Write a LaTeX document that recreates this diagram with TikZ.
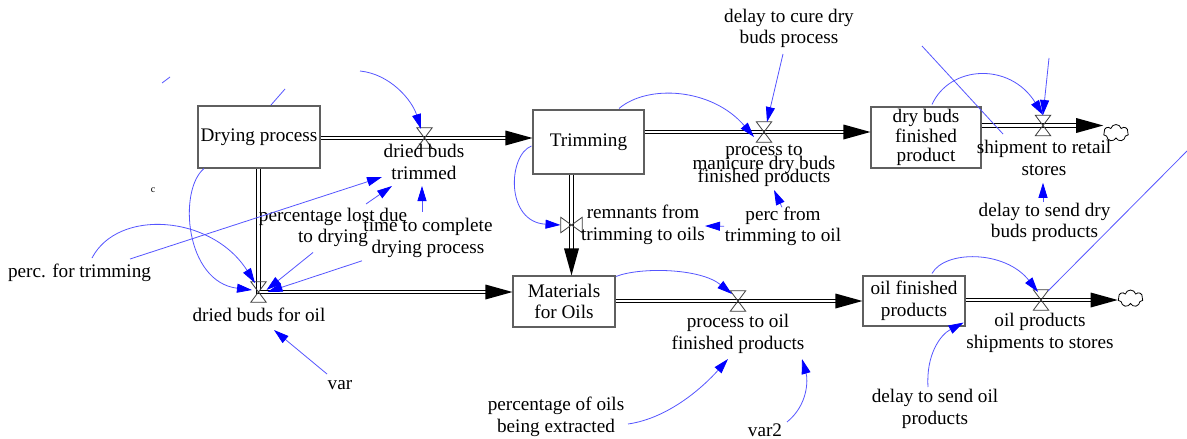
\documentclass[tikz,border=0pt]{standalone}
\usepackage{fontspec}
\setmainfont{Liberation Serif}
\usetikzlibrary{arrows.meta,calc,shapes.symbols}
\definecolor{linkblue}{RGB}{85,85,255}
\definecolor{tipblue}{RGB}{0,0,255}
\definecolor{boxgray}{RGB}{95,95,95}
\definecolor{valvegray}{RGB}{60,60,60}
\newcommand{\lblfont}{\fontsize{19.2}{21.7}\selectfont}
\tikzset{
  stock/.style={draw=boxgray, line width=1.1pt, inner sep=0pt, align=center, font=\lblfont},
  lbl/.style={font=\lblfont, align=center, inner sep=0pt},
  valve/.style={minimum width=15pt, minimum height=20pt, inner sep=0pt},
  valvebt/.style={minimum width=21pt, minimum height=15pt, inner sep=0pt},
  valveline/.style={draw=valvegray, line width=0.8pt, line join=miter},
  pipe/.style={draw=black, line width=1pt, double=white, double distance=2.8pt},
  flowhead/.style={fill=black},
  link/.style={draw=linkblue, line width=0.8pt, -{Triangle[length=15pt,width=9pt,color=tipblue]}},
  plainlink/.style={draw=linkblue, line width=0.8pt},
  sink/.style={cloud, cloud puffs=7, aspect=1.5, draw=black, line width=0.8pt, fill=white,
               minimum width=25pt, minimum height=17pt, inner sep=0pt},
}
\begin{document}
\begin{tikzpicture}[x=1pt,y=-1pt]
\useasboundingbox[fill=white] (0,0) rectangle (1187,439);

% ---- stocks
\node[stock, minimum width=122pt, minimum height=62pt] (dry)  at (259,137)   {Drying process};
\node[stock, minimum width=111pt, minimum height=64pt] (trim) at (588.5,142) {Trimming};
\node[stock, minimum width=110pt, minimum height=61pt, font=\fontsize{19.2}{19.5}\selectfont]
     (dbfp) at (926,137.5) {dry buds\\finished\\product};
\node[stock, minimum width=102pt, minimum height=51pt] (mat)  at (564,301.5) {Materials\\for Oils};
\node[stock, minimum width=102pt, minimum height=50pt] (ofp)  at (914,301)   {oil finished\\products};

% ---- valves and sinks
\node[valve]   (v1) at (424.5,138) {};
\node[valve]   (v2) at (764,132)   {};
\node[valvebt] (v3) at (571.5,225) {};
\node[valve]   (v4) at (258.5,292) {};
\node[valve]   (v5) at (1043,125.5) {};
\node[valve]   (v6) at (738,301)   {};
\node[valve]   (v7) at (1041,300)  {};
\node[sink] (c1) at (1116,133)    {};
\node[sink] (c2) at (1130.5,298.5) {};

% ---- pipes
\draw[pipe] (dry.east |- v1) -- ($(trim.west |- v1)+(-26,0)$);
\draw[pipe] (trim.east |- v2) -- ($(dbfp.west |- v2)+(-26,0)$);
\draw[pipe] (dbfp.east |- v5) -- ($(c1.west |- v5)+(-26,0)$);
\draw[pipe, line join=miter] (dry.south -| v4) -- (v4.center) -- ($(mat.west |- v4)+(-26,0)$);
\draw[pipe] (trim.south -| v3) -- ($(mat.north -| v3)+(0,-26)$);
\draw[pipe] (mat.east |- v6) -- ($(ofp.west |- v6)+(-26,0)$);
\draw[pipe] (ofp.east |- v7) -- ($(c2.west |- v7)+(-26,0)$);

\fill[flowhead] (trim.west |- v1) -- ++(-27,-7.5) -- ++(0,15) -- cycle;
\fill[flowhead] (dbfp.west |- v2) -- ++(-27,-7.5) -- ++(0,15) -- cycle;
\fill[flowhead] (c1.west |- v5)   -- ++(-27,-7.5) -- ++(0,15) -- cycle;
\fill[flowhead] (mat.west |- v4)  -- ++(-27,-7.5) -- ++(0,15) -- cycle;
\fill[flowhead] (mat.north -| v3) -- ++(-7.5,-27) -- ++(15,0) -- cycle;
\fill[flowhead] (ofp.west |- v6)  -- ++(-27,-7.5) -- ++(0,15) -- cycle;
\fill[flowhead] (c2.west |- v7)   -- ++(-27,-7.5) -- ++(0,15) -- cycle;

\foreach \v in {v1,v2,v4,v5,v6,v7}
  \draw[valveline] (\v.north west) -- (\v.north east) -- (\v.south west) -- (\v.south east) -- cycle;
\draw[valveline] (v3.north west) -- (v3.south west) -- (v3.north east) -- (v3.south east) -- cycle;

% ---- flow names
\node[lbl] (l1) at (424,161.7) {dried buds\\trimmed};
\node[lbl, font={\fontsize{19.2}{13.5}\selectfont\lineskiplimit=-30pt}]
     (l2) at (764,166) {process to\\manicure dry buds\\finished products};
\node[lbl] (l3) at (1044,157.8) {shipment to retail\\stores};
\node[lbl] (l4) at (259,315)    {dried buds for oil};
\node[lbl] (l5) at (643,225)    {remnants from\\trimming to oils};
\node[lbl] (l6) at (738,334)    {process to oil\\finished products};
\node[lbl] (l7) at (1040,333)   {oil products\\shipments to stores};

% ---- auxiliaries
\node[lbl] (a1)  at (789,28.5)   {delay to cure dry\\buds process};
\node[lbl] (a2)  at (783,226.3)  {perc from\\trimming to oil};
\node[lbl] (a3)  at (1044.5,222.5) {delay to send dry\\buds products};
\node[lbl] (a4)  at (333,227.5)  {percentage lost due\\to drying};
\node[lbl] (a5)  at (428,237.8)  {time to complete\\drying process};
\node[lbl] (a6)  at (79.5,272.5) {perc. for trimming};
\node[lbl] (a7)  at (340,385)    {var};
\node[lbl] (a8)  at (556,417)    {percentage of oils\\being extracted};
\node[lbl] (a9)  at (765,430)    {var2};
\node[lbl] (a10) at (935,409)    {delay to send oil\\products};
\node[inner sep=0pt, font=\fontsize{10}{10}\selectfont] (cmark) at (153,190) {c};

% ---- loose link ends
\coordinate (g1) at (360,71);
\coordinate (g2) at (1049,58);
\coordinate (g3) at (922,46);
\coordinate (g4) at (1187,151);
\coordinate (s1a) at (162,83);
\coordinate (s1b) at (170,77);
\coordinate (s2a) at (271,105);
\coordinate (s2b) at (285,89);

% ---- information links
\draw[link] (g1) .. controls (390,74) and (412,100) .. ($(v1)+(-3.5,-9)$);
\draw[link] ($(trim.north)+(30.5,-1)$) .. controls (648,84) and (712,88) .. ($(v2)+(-10,5)$);
\draw[link] ($(trim.west)+(-1,4)$) .. controls (508,155) and (505,222) .. ($(v3)+(-11,0)$);
\draw[link] ($(dry.south)+(-55,0)$) .. controls (178,190) and (185,282) .. ($(v4)+(-6.5,-2)$);
\draw[link] ($(a6)+(12.5,-14.5)$) .. controls (118,208) and (212,215) .. ($(v4)+(-3.5,-9)$);
\draw[link] ($(a6)+(50.5,-13.5)$) -- ($(l1)+(-42,15.3)$);
\draw[link] ($(a4)+(-20,25)$) -- ($(v4)+(8,-2)$);
\draw[link] ($(a5)+(-66,23)$) -- ($(v4)+(9,0)$);
\draw[link] ($(a7)+(-13,-11)$) -- ($(l4)+(15,15)$);
\draw[link] ($(a4)+(33,-23.5)$) -- ($(l1)+(-32,24.3)$);
\draw[link] ($(a5)+(-6,-26)$) -- ($(l1)+(-2,24.3)$);
\draw[link] ($(a1)+(-6,25.5)$) -- ($(v2)+(3,-10)$);
\draw[link] ($(a2)+(-1,-19)$) -- ($(l2)+(10,24)$);
\draw[link] ($(a2)+(-59,0)$) -- ($(l5)+(62,1)$);
\draw[link] ($(dbfp.north)+(6,-2)$) .. controls (950,65) and (1010,62) .. ($(v5)+(0,-10.5)$);
\draw[link] (g2) -- ($(v5)+(0,-10.5)$);
\draw[plainlink] (g3) -- ($(v5)+(-40,8.5)$);
\draw[link] ($(mat.north)+(52,1)$) .. controls (640,267) and (700,268) .. ($(v6)+(-6,-7)$);
\draw[link] ($(a8)+(72,7)$) .. controls (670,418) and (705,385) .. ($(l6)+(-10,25)$);
\draw[link] ($(a9)+(22,-8)$) .. controls (808,405) and (808,380) .. ($(l6)+(64,25)$);
\draw[link] ($(ofp.north)+(18,-2)$) .. controls (945,250) and (1005,250) .. ($(v7)+(-3,-8)$);
\draw[plainlink] (g4) -- ($(v7)+(7,-9)$);
\draw[link] ($(a10)+(-7,-22)$) .. controls (926,355) and (940,335) .. ($(ofp.south east)+(-2,-4)$);
\draw[link] ($(a3)+(-1.5,-20.5)$) -- ($(l3)+(-1,25)$);
\draw[plainlink] (s1a) -- (s1b);
\draw[plainlink] (s2a) -- (s2b);
\end{tikzpicture}
\end{document}
